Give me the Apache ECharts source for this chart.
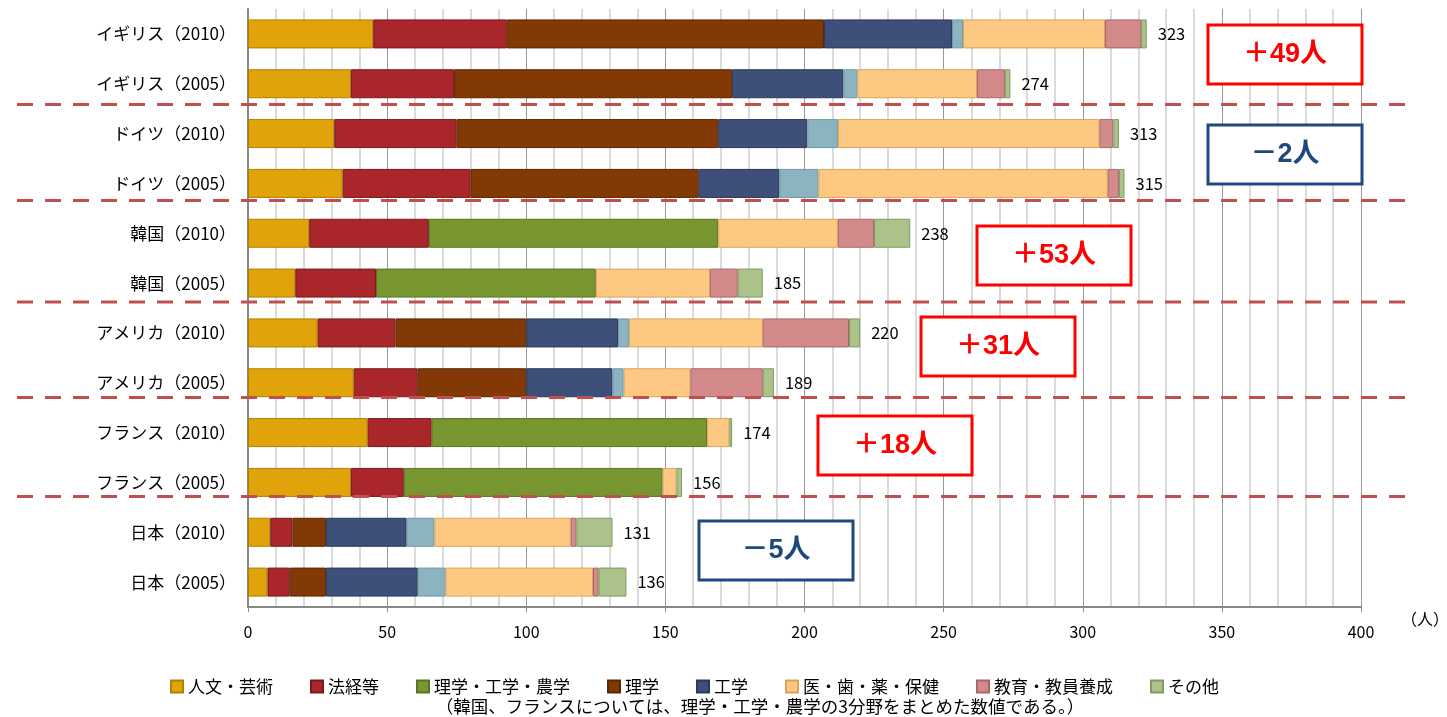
<!DOCTYPE html>
<html>
<head>
<meta charset="utf-8">
<script src="https://cdn.jsdelivr.net/npm/echarts@6/dist/echarts.min.js"></script>
<style>
html, body { margin: 0; padding: 0; background: #fff; }
#main { width: 1447px; height: 717px; }
</style>
</head>
<body>
<div id="main"></div>
<script>
// 国・年度
var categories = ['イギリス（2010）', 'イギリス（2005）', 'ドイツ（2010）', 'ドイツ（2005）',
    '韓国（2010）', '韓国（2005）', 'アメリカ（2010）', 'アメリカ（2005）',
    'フランス（2010）', 'フランス（2005）', '日本（2010）', '日本（2005）'];

// 分野別人数
var jinbun   = [45, 37, 31, 34, 22, 17, 25, 38, 43, 37, 8, 7];
var hokei    = [48, 37, 44, 46, 43, 29, 28, 23, 23, 19, 8, 8];
var rikounou = [0, 0, 0, 0, 104, 79, 0, 0, 99, 93, 0, 0];
var rigaku   = [114, 100, 94, 82, 0, 0, 47, 39, 0, 0, 12, 13];
var kougaku  = [46, 40, 32, 29, 0, 0, 33, 31, 0, 0, 29, 33];
var nougaku  = [4, 5, 11, 14, 0, 0, 4, 4, 0, 0, 10, 10];
var iryou    = [51, 43, 94, 104, 43, 41, 48, 24, 8, 5, 49, 53];
var kyouiku  = [13, 10, 5, 4, 13, 10, 31, 26, 0, 0, 2, 2];
var sonota   = [2, 2, 2, 2, 13, 9, 4, 4, 1, 2, 13, 10];
var totals   = [323, 274, 313, 315, 238, 185, 220, 189, 174, 156, 131, 136];

var xTicks = [0, 400, 50];

var FONT = 'Noto Sans CJK JP';

var myChart = echarts.init(document.getElementById('main'));

function seg(name, data, color, border, withLabel) {
    var s = {
        name: name,
        type: 'bar',
        stack: 'total',
        barWidth: 29,
        data: data.map(function (v) { return v === 0 ? '-' : v; }),
        itemStyle: { color: color, borderColor: border, borderWidth: 1 },
        emphasis: { disabled: true }
    };
    if (withLabel) {
        s.label = {
            show: true,
            position: 'right',
            distance: 11,
            color: '#000',
            fontSize: 16.5,
            fontFamily: FONT,
            formatter: function (p) { return totals[p.dataIndex]; }
        };
    }
    return s;
}

// 区切り線・増減ボックス
var sepY = [104.5, 200.5, 302, 397.5, 496.5];
var boxes = [
    { x: 1208, y: 25, t: '＋49人', c: '#FF0000' },
    { x: 1208, y: 125, t: '－2人', c: '#1F497D' },
    { x: 977, y: 226, t: '＋53人', c: '#FF0000' },
    { x: 921, y: 317, t: '＋31人', c: '#FF0000' },
    { x: 818, y: 416, t: '＋18人', c: '#FF0000' },
    { x: 699, y: 521, t: '－5人', c: '#1F497D' }
];
var graphics = [];
sepY.forEach(function (y) {
    graphics.push({
        type: 'line', z: 10,
        shape: { x1: 17, y1: y, x2: 1405, y2: y },
        style: { stroke: '#C0504D', lineWidth: 3, lineDash: [16, 12] }
    });
});
boxes.forEach(function (b) {
    graphics.push({
        type: 'rect', z: 11,
        shape: { x: b.x, y: b.y, width: 154, height: 59 },
        style: { fill: '#fff', stroke: b.c, lineWidth: 3 }
    });
    graphics.push({
        type: 'text', z: 12,
        x: b.x + 77, y: b.y + 30,
        style: { text: b.t, fill: b.c, font: 'bold 27px "Liberation Sans", "' + FONT + '"', align: 'center', verticalAlign: 'middle' }
    });
});
graphics.push({
    type: 'text', x: 1425, y: 619,
    style: { text: '（人）', fill: '#000', font: '16px "' + FONT + '"', align: 'center', verticalAlign: 'middle' }
});
graphics.push({
    type: 'text', x: 760, y: 706,
    style: { text: '（韓国、フランスについては、理学・工学・農学の3分野をまとめた数値である。）', fill: '#000', font: '17.5px "' + FONT + '"', align: 'center', verticalAlign: 'middle' }
});

myChart.setOption({
    animation: false,
    textStyle: { fontFamily: FONT },
    grid: { left: 248, right: 86, top: 9, bottom: 110 },
    legend: {
        left: 165,
        top: 673,
        icon: 'rect',
        itemWidth: 12,
        itemHeight: 12,
        itemGap: 37,
        textStyle: { fontSize: 17, color: '#000', fontFamily: FONT },
        data: ['人文・芸術', '法経等', '理学・工学・農学', '理学', '工学', '医・歯・薬・保健', '教育・教員養成', 'その他']
    },
    xAxis: {
        type: 'value',
        min: xTicks[0],
        max: xTicks[1],
        interval: xTicks[2],
        axisLine: { show: true, lineStyle: { color: '#888', width: 2 } },
        axisTick: { show: true, length: 5, lineStyle: { color: '#888' } },
        axisLabel: { color: '#000', fontSize: 16, margin: 17 },
        splitLine: { show: true, lineStyle: { color: '#999', width: 1 } },
        minorTick: { show: false, splitNumber: 5 },
        minorSplitLine: { show: true, lineStyle: { color: '#cfcfcf', width: 1.5 } }
    },
    yAxis: {
        type: 'category',
        inverse: true,
        data: categories,
        axisLine: { show: true, lineStyle: { color: '#888', width: 2 } },
        axisTick: { show: false },
        axisLabel: { color: '#000', fontSize: 17, margin: 12 }
    },
    graphic: graphics,
    series: [
        seg('人文・芸術', jinbun, '#E0A30A', '#B08000'),
        seg('法経等', hokei, '#A9262A', '#7A1A1C'),
        seg('理学・工学・農学', rikounou, '#77962F', '#5A7522'),
        seg('理学', rigaku, '#823905', '#5A2700'),
        seg('工学', kougaku, '#3E4F7A', '#2B3859'),
        seg('農学', nougaku, '#8BB3C0', '#6E98A6'),
        seg('医・歯・薬・保健', iryou, '#FDC882', '#D9A45E'),
        seg('教育・教員養成', kyouiku, '#D4898A', '#A86869'),
        seg('その他', sonota, '#ABC38B', '#7F9A63', true)
    ]
});
</script>
</body>
</html>
